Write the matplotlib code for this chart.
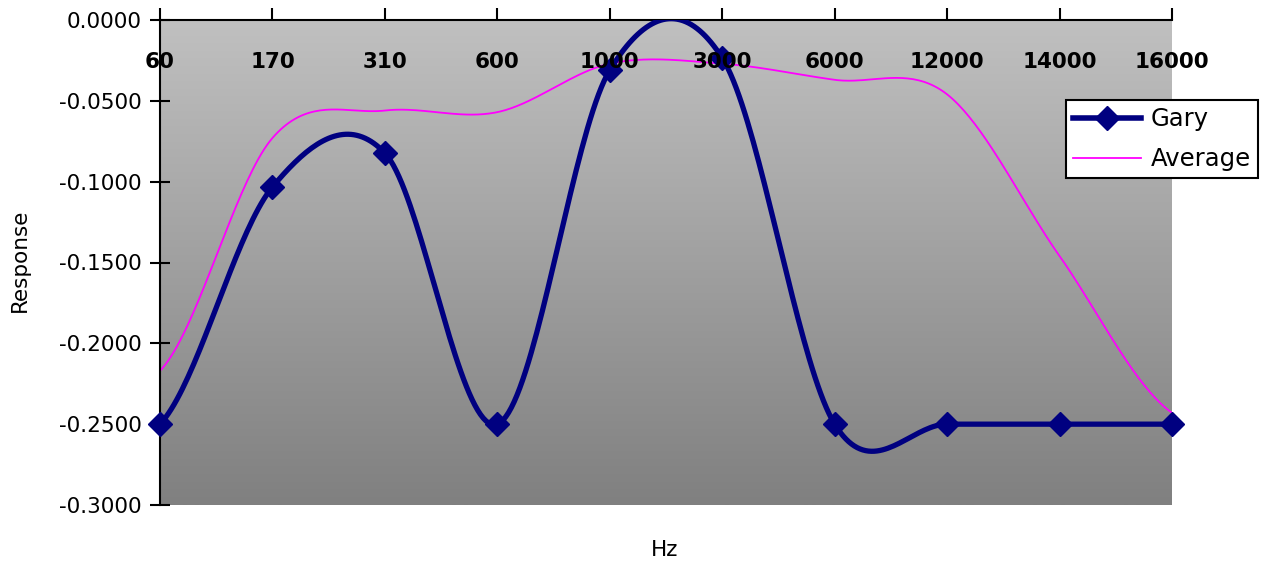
import numpy as np
import matplotlib
matplotlib.use("Agg")
import matplotlib.pyplot as plt
from matplotlib.transforms import blended_transform_factory

plt.rcParams['font.family'] = ['DejaVu Sans']

hz = ["60", "170", "310", "600", "1000", "3000", "6000", "12000", "14000", "16000"]
gary = [-0.25, -0.1033, -0.0823, -0.25, -0.031, -0.0235, -0.25, -0.25, -0.25, -0.25]
average = [-0.217, -0.073, -0.056, -0.057, -0.027, -0.027, -0.037, -0.046, -0.146, -0.243]


def smooth(y, n=40):
    # Excel-style smoothed line (Catmull-Rom through the points)
    y = np.asarray(y, float)
    p = np.concatenate([[y[0]], y, [y[-1]]])
    xs, ys = [], []
    for i in range(len(y) - 1):
        t = np.linspace(0, 1, n, endpoint=False)
        p0, p1, p2, p3 = p[i], p[i + 1], p[i + 2], p[i + 3]
        m1 = (p2 - p0) / 2
        m2 = (p3 - p1) / 2
        h00 = 2 * t**3 - 3 * t**2 + 1
        h10 = t**3 - 2 * t**2 + t
        h01 = -2 * t**3 + 3 * t**2
        h11 = t**3 - t**2
        xs.append(i + t)
        ys.append(h00 * p1 + h10 * m1 + h01 * p2 + h11 * m2)
    xs.append([len(y) - 1])
    ys.append([y[-1]])
    return np.concatenate(xs), np.concatenate(ys)


fig = plt.figure(figsize=(12.7, 5.68), dpi=100)
ax = fig.add_axes([160 / 1270, 1 - 505 / 568, 1012 / 1270, 485 / 568])

x = np.arange(len(hz))
ax.set_xlim(0, len(hz) - 1)
ax.set_ylim(-0.3, 0.0)

# grey gradient background (light at top, dark at bottom)
grad = np.linspace(0, 1, 256).reshape(-1, 1)
cmap = matplotlib.colors.LinearSegmentedColormap.from_list("g", ["#c0c0c0", "#808080"])
ax.imshow(grad, cmap=cmap, extent=[0, len(hz) - 1, -0.3, 0.0], aspect="auto",
          zorder=0, origin="upper")

xa, ya = smooth(average)
ax.plot(xa, ya, color="#ff00ff", lw=1.3, zorder=2, label="Average")
xg, yg = smooth(gary)
ax.plot(xg, yg, color="#000080", lw=3.8, zorder=3)
ax.plot(x, gary, ls="none", marker="D", ms=12, color="#000080", zorder=4, clip_on=False)
ax.plot([], [], color="#000080", lw=4, marker="D", ms=12, label="Gary")

# axes styling
for s in ["right", "bottom"]:
    ax.spines[s].set_visible(False)
ax.spines["top"].set_linewidth(1.5)
ax.spines["left"].set_linewidth(1.5)
ax.xaxis.tick_top()
ax.set_xticks(x)
ax.set_xticklabels([])
ax.tick_params(axis="x", direction="out", length=9, width=1.5)
yt = np.round(np.arange(-0.3, 0.001, 0.05), 4)
ax.set_yticks(yt)
ax.set_yticklabels(["%.4f" % (v if v != 0 else 0.0) for v in yt], fontsize=15.5)
ax.tick_params(axis="y", direction="inout", length=14, width=1.5, pad=6)

tr = blended_transform_factory(ax.transData, ax.transAxes)
for xi, lab in zip(x, hz):
    ax.text(xi, 1 - 42 / 485, lab, transform=tr, ha="center", va="center",
            fontsize=15.5, fontweight="bold", zorder=5)

fig.text(20 / 1270, 1 - 260 / 568, "Response", rotation=90, ha="center", va="center", fontsize=15.5)
fig.text(665 / 1270, 1 - 550 / 568, "Hz", ha="center", va="center", fontsize=15.5)

h, l = ax.get_legend_handles_labels()
leg = fig.legend([h[1], h[0]], [l[1], l[0]], loc="upper left",
                 bbox_to_anchor=(1066 / 1270, 1 - 100 / 568), fontsize=17.5,
                 frameon=True, fancybox=False, edgecolor="black", framealpha=1,
                 handlelength=2.8, borderpad=0.3, labelspacing=0.65, borderaxespad=0,
                 handletextpad=0.4)
leg.get_frame().set_linewidth(1.5)

fig.savefig("out.png", dpi=100)
